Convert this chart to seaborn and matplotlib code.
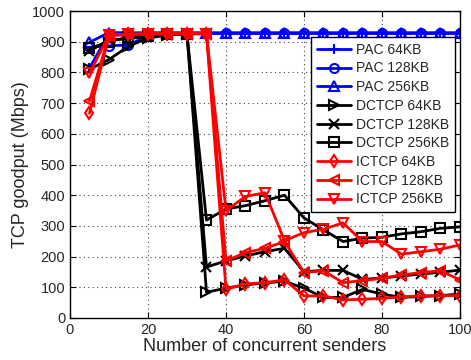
import numpy as np
import pandas as pd
import matplotlib
matplotlib.use('Agg')
import matplotlib.pyplot as plt
import seaborn as sns

# Numero di mittenti concorrenti
senders = [5, 10, 15, 20, 25, 30, 35, 40, 45, 50, 55, 60, 65, 70, 75, 80, 85, 90, 95, 100]

# Goodput (Mbps)
pac_64 = [815, 925, 927, 928, 928, 928, 928, 928, 928, 928, 928, 928, 928, 928, 928, 928, 928, 928, 928, 928]
pac_128 = [882, 887, 889, 920, 926, 927, 927, 927, 927, 927, 927, 927, 927, 927, 927, 927, 927, 927, 927, 927]
pac_256 = [898, 930, 929, 929, 929, 929, 929, 929, 929, 929, 929, 929, 929, 929, 929, 929, 929, 929, 929, 929]

dctcp_64 = [810, 842, 885, 912, 922, 925, 84, 97, 108, 114, 120, 97, 67, 67, 93, 78, 67, 70, 73, 78]
dctcp_128 = [870, 905, 910, 918, 923, 925, 166, 186, 202, 216, 227, 151, 155, 155, 126, 130, 137, 143, 149, 156]
dctcp_256 = [878, 900, 915, 920, 925, 925, 319, 355, 366, 382, 400, 326, 287, 249, 260, 263, 274, 281, 292, 297]

ictcp_64 = [667, 920, 924, 925, 926, 926, 926, 94, 111, 115, 124, 72, 72, 59, 61, 64, 69, 72, 73, 73]
ictcp_128 = [707, 920, 924, 925, 926, 926, 926, 186, 213, 227, 249, 148, 154, 115, 122, 129, 140, 148, 154, 124]
ictcp_256 = [797, 922, 925, 926, 926, 926, 926, 350, 396, 408, 252, 278, 289, 310, 249, 249, 208, 216, 224, 238]

series = [
    ('PAC 64KB', pac_64, 'blue', '+'),
    ('PAC 128KB', pac_128, 'blue', 'o'),
    ('PAC 256KB', pac_256, 'blue', '^'),
    ('DCTCP 64KB', dctcp_64, 'black', '>'),
    ('DCTCP 128KB', dctcp_128, 'black', 'x'),
    ('DCTCP 256KB', dctcp_256, 'black', 's'),
    ('ICTCP 64KB', ictcp_64, 'red', 'd'),
    ('ICTCP 128KB', ictcp_128, 'red', '<'),
    ('ICTCP 256KB', ictcp_256, 'red', 'v'),
]

sns.set_style('ticks')
plt.rcParams['font.family'] = ['Liberation Sans', 'DejaVu Sans']

fig = plt.figure(figsize=(4.71, 3.6), dpi=100)
ax = fig.add_axes([0.1486, 0.1167, 0.828, 0.8527])

for name, vals, col, mk in series:
    df = pd.DataFrame({'x': senders, 'y': vals})
    sns.lineplot(data=df, x='x', y='y', ax=ax, color=col, marker=mk, markersize=6.5,
                 markerfacecolor='none', markeredgecolor=col, markeredgewidth=1.5,
                 linewidth=2, label=name)

ax.set_xlim(0, 100)
ax.set_ylim(0, 1000)
ax.set_xticks(np.arange(0, 101, 20))
ax.set_yticks(np.arange(0, 1001, 100))
ax.grid(True, linestyle=(0, (1, 3)), color='#444444', linewidth=0.8)
ax.tick_params(direction='in', labelsize=10.5, length=4, top=True, right=True, color='black')
for s in ax.spines.values():
    s.set_color('black')
    s.set_linewidth(1)

ax.set_xlabel('Number of concurrent senders', fontsize=13, labelpad=1)
ax.set_ylabel('TCP goodput (Mbps)', fontsize=13, labelpad=2)

leg = ax.legend(loc='upper right', bbox_to_anchor=(0.987, 0.915), fontsize=10,
                frameon=True, fancybox=False, edgecolor='black', framealpha=1,
                borderaxespad=0, labelspacing=0.34, handlelength=2.5,
                handletextpad=0.35, borderpad=0.4)
leg.get_frame().set_linewidth(1)

fig.savefig('out.png', dpi=100)
